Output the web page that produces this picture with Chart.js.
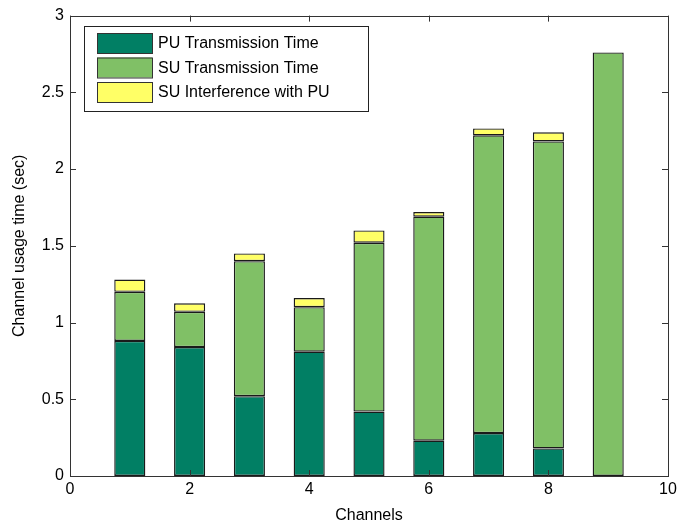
<!DOCTYPE html>
<html>
<head>
<meta charset="utf-8">
<script src="https://cdn.jsdelivr.net/npm/chart.js@4"></script>
<style>
  body { margin: 0; background: #fff; }
  #wrap { width: 686px; height: 525px; }
</style>
</head>
<body>
<div id="wrap"><canvas id="myChart" width="686" height="525"></canvas></div>
<script>
// values
const channels = [1, 2, 3, 4, 5, 6, 7, 8, 9];
const puTime = [0.88, 0.84, 0.52, 0.81, 0.42, 0.23, 0.28, 0.18, null];
const suTime = [0.32, 0.23, 0.88, 0.29, 1.10, 1.46, 1.94, 2.00, 2.76];
const suInterference = [0.08, 0.055, 0.05, 0.06, 0.08, 0.03, 0.045, 0.06, null];
const seriesNames = ['PU Transmission Time', 'SU Transmission Time', 'SU Interference with PU'];
const seriesColors = ['#017f64', '#80c066', '#ffff66'];
const xTicks = [0, 2, 4, 6, 8, 10];
const yTicks = [0, 0.5, 1, 1.5, 2, 2.5, 3];

const font = "'Liberation Sans', Arial, sans-serif";

function points(vals) {
  return channels.map((c, i) => ({ x: c, y: vals[i] }));
}

const datasets = [puTime, suTime, suInterference].map((vals, i) => ({
  label: seriesNames[i],
  data: points(vals),
  backgroundColor: seriesColors[i],
  borderColor: '#1a1a1a',
  borderWidth: 1.4,
  borderSkipped: false,
  categoryPercentage: 1,
  barPercentage: 0.52
}));

// matlab style box with inward ticks
const boxPlugin = {
  id: 'box',
  afterDraw(chart) {
    const ctx = chart.ctx;
    const a = chart.chartArea;
    const xs = chart.scales.x, ys = chart.scales.y;
    ctx.save();
    ctx.strokeStyle = '#333';
    ctx.lineWidth = 1;
    ctx.strokeRect(Math.round(a.left) + 0.5, Math.round(a.top) + 0.5,
      Math.round(a.right - a.left), Math.round(a.bottom - a.top));
    ctx.beginPath();
    xTicks.forEach(v => {
      const px = Math.round(xs.getPixelForValue(v)) + 0.5;
      ctx.moveTo(px, a.bottom); ctx.lineTo(px, a.bottom - 6);
      ctx.moveTo(px, a.top); ctx.lineTo(px, a.top + 6);
    });
    yTicks.forEach(v => {
      const py = Math.round(ys.getPixelForValue(v)) + 0.5;
      ctx.moveTo(a.left, py); ctx.lineTo(a.left + 6, py);
      ctx.moveTo(a.right, py); ctx.lineTo(a.right - 6, py);
    });
    ctx.stroke();

    // legend inside the plot
    const lx = 84, ly = 26, lw = 284, lh = 85;
    ctx.fillStyle = '#fff';
    ctx.fillRect(lx, ly, lw, lh);
    ctx.strokeStyle = '#222';
    ctx.strokeRect(lx + 0.5, ly + 0.5, lw, lh);
    ctx.font = '16px ' + font;
    ctx.textBaseline = 'middle';
    seriesNames.forEach((name, i) => {
      const cy = ly + 17 + i * 24.5;
      ctx.fillStyle = seriesColors[i];
      ctx.fillRect(97, cy - 10, 55, 20);
      ctx.strokeStyle = '#333';
      ctx.strokeRect(97.5, cy - 9.5, 55, 20);
      ctx.fillStyle = '#000';
      ctx.fillText(name, 158, cy + 1);
    });
    ctx.restore();
  }
};

new Chart(document.getElementById('myChart'), {
  type: 'bar',
  data: { datasets: datasets },
  options: {
    responsive: false,
    animation: false,
    layout: { padding: { left: 10, right: 18, top: 10, bottom: 0 } },
    plugins: { legend: { display: false }, tooltip: { enabled: false } },
    scales: {
      x: {
        type: 'linear',
        stacked: true,
        offset: false,
        min: 0,
        max: 10,
        afterBuildTicks: s => { s.ticks = xTicks.map(v => ({ value: v })); },
        afterFit: s => { s.height = 49; },
        grid: { display: false, drawTicks: false, offset: false },
        border: { display: false },
        ticks: { color: '#000', font: { family: font, size: 16 }, padding: 4, callback: v => String(v) },
        title: { display: true, text: 'Channels', color: '#000', font: { family: font, size: 16 }, padding: { top: 0, bottom: 0 } }
      },
      y: {
        stacked: true,
        min: 0,
        max: 3,
        afterBuildTicks: s => { s.ticks = yTicks.map(v => ({ value: v })); },
        afterFit: s => { s.width = 60; },
        grid: { display: false, drawTicks: false },
        border: { display: false },
        ticks: { color: '#000', font: { family: font, size: 16 }, padding: 6, callback: v => String(v) },
        title: { display: true, text: 'Channel usage time (sec)', color: '#000', font: { family: font, size: 16 }, padding: { top: 0, bottom: 4 } }
      }
    }
  },
  plugins: [boxPlugin]
});
</script>
</body>
</html>
